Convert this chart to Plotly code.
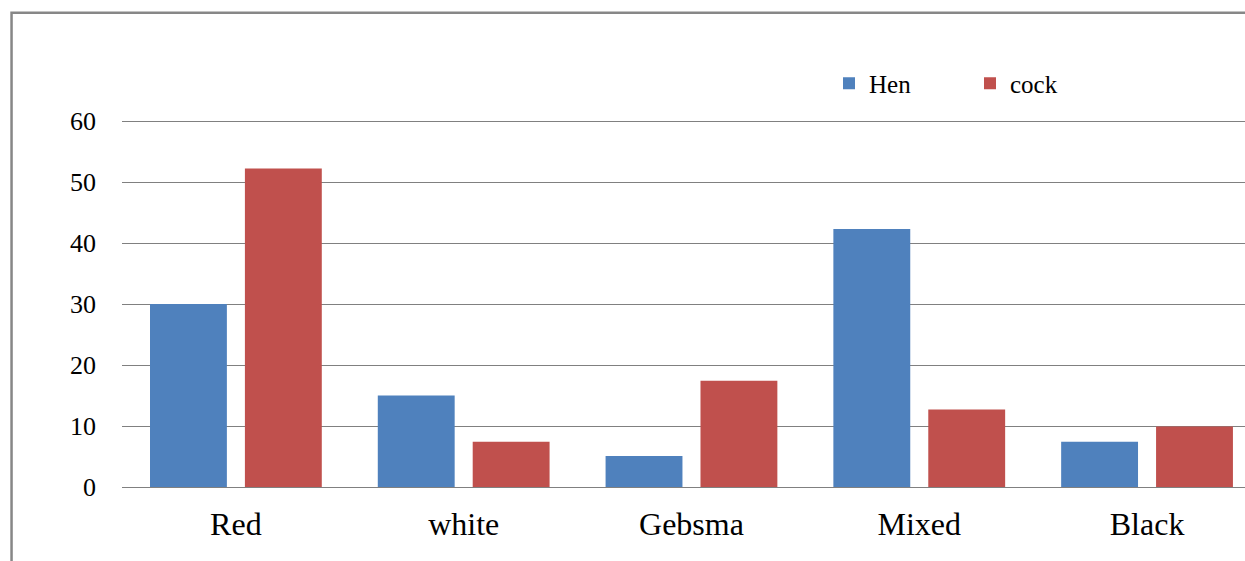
import plotly.graph_objects as go

categories = ["Red", "white", "Gebsma", "Mixed", "Black"]
hen = [30, 15, 5.1, 42.3, 7.4]
cock = [52.2, 7.4, 17.4, 12.7, 9.9]
y_ticks = [0, 10, 20, 30, 40, 50, 60]

W, H = 1245, 561
L, B = 121.5, 73.7
PX_PER_UNIT = 6.1
Y_MAX = 60.5
T = H - B - PX_PER_UNIT * Y_MAX

fig = go.Figure()
fig.add_trace(go.Bar(name="Hen", x=categories, y=hen, marker=dict(color="#4F81BD", line=dict(width=0))))
fig.add_trace(go.Bar(name="cock", x=categories, y=cock, marker=dict(color="#C0504D", line=dict(width=0))))

font_family = "Liberation Serif, Times New Roman, serif"

fig.update_layout(
    width=W, height=H,
    margin=dict(l=L, r=0, t=T, b=B, pad=0),
    paper_bgcolor="white", plot_bgcolor="white",
    barmode="group", bargap=0.1667, bargroupgap=0.19,
    font=dict(family=font_family, color="black"),
    showlegend=True,
    legend=dict(
        orientation="h",
        xref="container", yref="container",
        x=829 / W, y=1 - 83.5 / H, xanchor="left", yanchor="middle",
        font=dict(size=25, family=font_family, color="black"),
        entrywidth=96, entrywidthmode="pixels",
        bgcolor="rgba(0,0,0,0)", borderwidth=0,
        traceorder="normal",
    ),
    xaxis=dict(
        type="category", range=[-0.5, 4.43],
        showgrid=False, showline=False, zeroline=False,
        ticks="", tickfont=dict(size=32, family=font_family, color="black"),
        ticklabelstandoff=15, fixedrange=True,
    ),
    yaxis=dict(
        range=[0, Y_MAX], tickvals=y_ticks,
        showgrid=True, gridcolor="#808080", gridwidth=1.2,
        zeroline=True, zerolinecolor="#808080", zerolinewidth=1.2,
        showline=False, ticks="",
        tickfont=dict(size=26, family=font_family, color="black"),
        ticklabelstandoff=25, fixedrange=True,
    ),
    shapes=[dict(
        type="rect", xref="paper", yref="paper",
        x0=(11 - L) / (W - L), x1=1.2,
        y0=-1.0, y1=(H - B - 13) / (H - T - B),
        line=dict(color="#878787", width=2.5), fillcolor="rgba(0,0,0,0)",
        layer="above",
    )],
)

fig.write_html("out.html")
